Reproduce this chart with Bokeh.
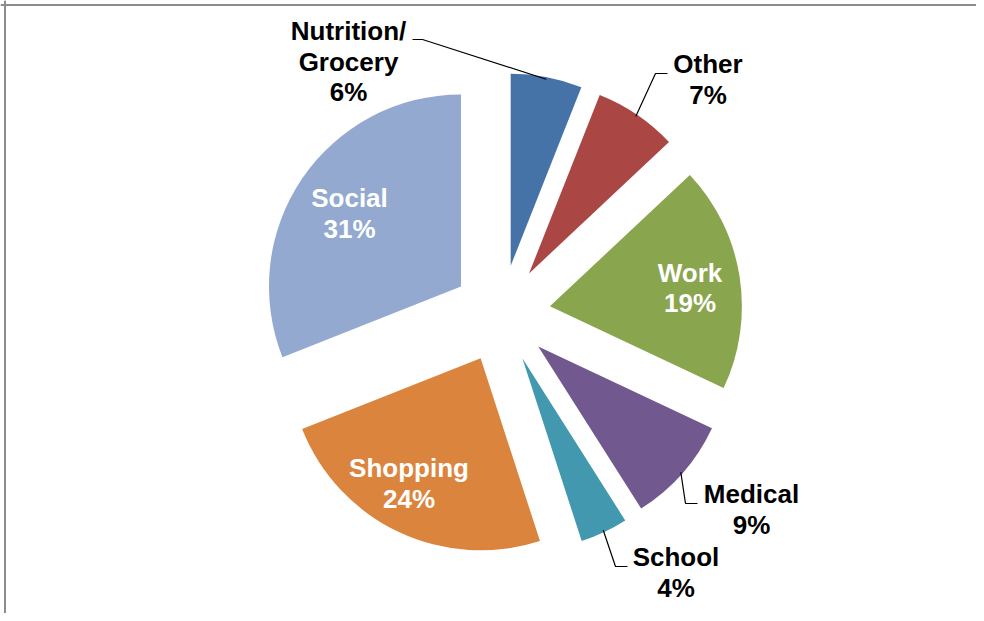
import math
from bokeh.plotting import figure
from bokeh.models import Range1d, Span
from bokeh.core.properties import value
from bokeh.embed import file_html
from bokeh.resources import INLINE

# ---------------- data ----------------
categories = ["Nutrition/\nGrocery", "Other", "Work", "Medical", "School", "Shopping", "Social"]
percent = [6, 7, 19, 9, 4, 24, 31]
colors = ["#4572A7", "#AA4643", "#89A54E", "#71588F", "#4198AF", "#DB843D", "#93A9CF"]
inside = [False, False, True, False, False, True, True]

# ---------------- layout ----------------
W, H = 976, 613
CX, CY = 501.0, 299.5      # pie centre (data units = pixels)
R = 192.0                  # radius
EXPLODE = 49.0             # explode distance
FONT = value("Liberation Sans")
FSIZE = "26px"
LINE_GAP = 30.5
TEXT_SHIFT = 0.0           # vertical correction for the text anchor
# label block centre offsets from pie centre (dx right, dy up)
label_off = [(-153, 252.5), (206.5, 234.5), (188.5, 26), (250, -195.5),
             (174.5, -258.5), (-92.5, -169.5), (-152, 100.5)]
# leader elbow / end offsets relative to label block centre (None = no leader)
leader_off = [((74, 22), (64, 22)), ((-52.5, 6), (-40.5, 6)), None,
              ((-66, 6), (-54, 6)), ((-60.5, 6), (-48.5, 6)), None, None]

p = figure(width=W, height=H, x_range=Range1d(0, W), y_range=Range1d(0, H),
           min_border=0, toolbar_location=None, output_backend="svg",
           x_axis_location=None, y_axis_location=None)
p.grid.visible = False
p.outline_line_color = None
p.background_fill_color = "white"
p.border_fill_color = "white"

total = float(sum(percent))
cum = 0.0
for i, v in enumerate(percent):
    t1 = cum / total * 360.0
    cum += v
    t2 = cum / total * 360.0
    mid = math.radians((t1 + t2) / 2.0)
    ax = CX + EXPLODE * math.sin(mid)
    ay = CY + EXPLODE * math.cos(mid)
    p.wedge(x=[ax], y=[ay], radius=R,
            start_angle=[math.radians(90 - t2)], end_angle=[math.radians(90 - t1)],
            direction="anticlock", fill_color=colors[i], line_color=None)

    lx = CX + label_off[i][0]
    ly = CY + label_off[i][1]
    lines = categories[i].split("\n") + [f"{v}%"]
    n = len(lines)
    for k, t in enumerate(lines):
        cap_c = ly + ((n - 1) / 2.0 - k) * LINE_GAP
        p.text(x=[lx], y=[cap_c - TEXT_SHIFT], text=[t], text_font=FONT,
               text_font_size=FSIZE, text_font_style="bold",
               text_color="white" if inside[i] else "black",
               text_align="center", text_baseline="alphabetic")

    if leader_off[i] is not None:
        sx = ax + (R - 2) * math.sin(mid)
        sy = ay + (R - 2) * math.cos(mid)
        (ex, ey), (fx, fy) = leader_off[i]
        p.line(x=[sx, lx + ex, lx + fx], y=[sy, ly + ey, ly + fy],
               line_color="black", line_width=1.2)

# chart frame (top and left edges)
p.add_layout(Span(location=H - 4.5, dimension="width", line_color="#8c8c8c", line_width=2))
p.add_layout(Span(location=4.5, dimension="height", line_color="#8c8c8c", line_width=2))

open("out.html", "w").write(file_html(p, INLINE))
